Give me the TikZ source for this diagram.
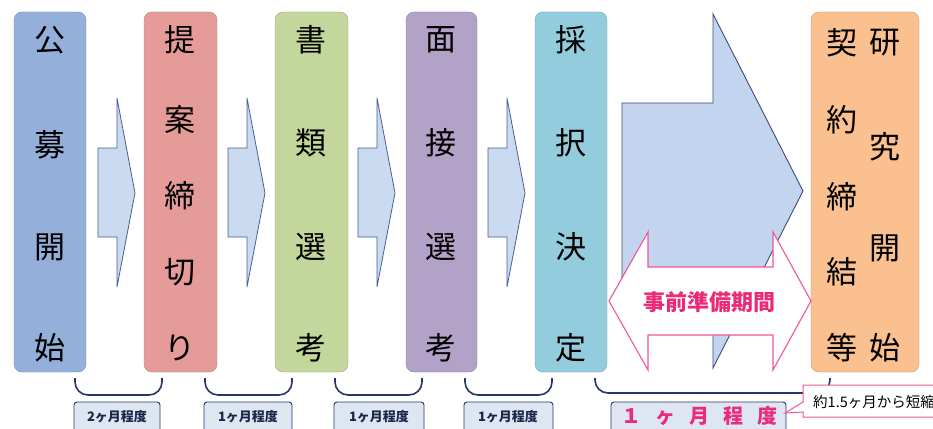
\documentclass[tikz,border=0pt]{standalone}
\usepackage{fontspec}
\newfontfamily\jp{Noto Sans CJK JP}
\definecolor{cA}{HTML}{94B0DA}
\definecolor{cB}{HTML}{E59C99}
\definecolor{cC}{HTML}{C3D69B}
\definecolor{cD}{HTML}{B3A2C7}
\definecolor{cE}{HTML}{93CDDD}
\definecolor{cF}{HTML}{FAC090}
\definecolor{arrfill}{HTML}{C9DAF1}
\definecolor{bigfill}{HTML}{C3D4EE}
\definecolor{navy}{HTML}{27376A}
\definecolor{arrline}{HTML}{4A5F92}
\definecolor{lblfill}{HTML}{DEE6F2}
\definecolor{pinkc}{HTML}{EB2A78}
\definecolor{pinkline}{HTML}{F0569A}
\tikzset{
  stagebox/.style={rounded corners=8pt, draw=#1!80!black, line width=0.4pt, fill=#1},
  ch/.style={font=\jp\fontsize{31}{31}\selectfont, inner sep=0pt, anchor=center},
  smallarr/.style={draw=arrline, line width=0.8pt, fill=arrfill, line join=miter},
  bracepath/.style={draw=navy, line width=1.6pt, rounded corners=13pt},
  lblbox/.style={draw=navy, line width=0.9pt, fill=lblfill, rounded corners=3pt},
  lbltext/.style={font=\jp\bfseries\fontsize{13}{13}\selectfont, text=navy!70!black, inner sep=0pt},
}
\begin{document}
\begin{tikzpicture}[x=1pt,y=-1pt]
\useasboundingbox (0,0) rectangle (933,428);
\clip (0,0) rectangle (933,428);
\fill[white] (0,0) rectangle (933,428);
% stage boxes
\path[stagebox=cA] (14,12) rectangle (86,372);
\path[stagebox=cB] (144,12) rectangle (217,372);
\path[stagebox=cC] (275,12) rectangle (348,372);
\path[stagebox=cD] (406,12) rectangle (477,372);
\path[stagebox=cE] (535,12) rectangle (607,372);
\path[stagebox=cF] (811,12) rectangle (919,372);
% box texts
\foreach \c/\y [count=\i] in {公/40,募/145,開/247,始/348}{\node[ch] (a\i) at (50,\y) {\c};}
\foreach \c/\y [count=\i] in {提/40,案/120,締/196,切/272,り/348}{\node[ch] (b\i) at (180,\y) {\c};}
\foreach \c/\y [count=\i] in {書/40,類/143,選/247,考/348}{\node[ch] (c\i) at (311,\y) {\c};}
\foreach \c/\y [count=\i] in {面/40,接/143,選/247,考/348}{\node[ch] (d\i) at (441,\y) {\c};}
\foreach \c/\y [count=\i] in {採/40,択/143,決/247,定/348}{\node[ch] (e\i) at (571,\y) {\c};}
\foreach \c/\y [count=\i] in {契/43,約/120,締/197,結/272,等/348}{\node[ch] (f\i) at (842,\y) {\c};}
\foreach \c/\y [count=\i] in {研/43,究/147,開/248,始/348}{\node[ch] (g\i) at (885,\y) {\c};}
% small arrows
\foreach \s in {98,228,358,488}{
  \path[smallarr] (\s,148) -- (\s+19,148) -- (\s+19,98) -- (\s+37,193) -- (\s+19,287) -- (\s+19,237) -- (\s,237) -- cycle;
}
% big arrow
\path[draw=navy!90, line width=0.9pt, fill=bigfill, line join=miter]
  (622,103) -- (713,103) -- (713,14) -- (803,191) -- (713,368) -- (713,279) -- (622,279) -- cycle;
% pink double arrow
\path[draw=pinkline, line width=1.1pt, fill=white, line join=miter]
  (609,301) -- (648,232) -- (648,267) -- (773,267) -- (773,232) -- (811,301)
  -- (773,370) -- (773,335) -- (648,335) -- (648,370) -- cycle;
\node[font=\jp\bfseries\fontsize{22}{22}\selectfont, text=pinkc, inner sep=0pt] (prep) at (709,302) {事前準備期間};
% braces
\path[bracepath] (75,378) -- (75,395) -- (162,395) -- (162,378);
\path[bracepath] (205,378) -- (205,395) -- (292,395) -- (292,378);
\path[bracepath] (335,378) -- (335,395) -- (422,395) -- (422,378);
\path[bracepath] (465,378) -- (465,395) -- (552,395) -- (552,378);
\path[bracepath] (595,378) -- (595,393) -- (830,393) -- (830,378);
% labels
\path[lblbox] (74,402) rectangle (160,440);
\node[lbltext] (l1) at (117,417) {2ヶ月程度};
\path[lblbox] (204,402) rectangle (292,440);
\node[lbltext] (l2) at (248,417) {1ヶ月程度};
\path[lblbox] (334,402) rectangle (424,440);
\node[lbltext] (l3) at (379,417) {1ヶ月程度};
\path[lblbox] (464,402) rectangle (553,440);
\node[lbltext] (l4) at (508,417) {1ヶ月程度};
\path[lblbox] (611,402) rectangle (786,440);
\node[font=\jp\bfseries\fontsize{20}{20}\selectfont, text=pinkc, inner sep=0pt] (l5) at (699,416)
  {１\hspace{14pt}ヶ\hspace{14pt}月\hspace{14pt}程\hspace{14pt}度};
% callout
\path[draw=pinkline, line width=1pt, fill=white, line join=miter]
  (803,385) -- (960,385) -- (960,417) -- (803,417) -- (803,412) -- (785,413) -- (803,402) -- cycle;
\node[font=\jp\fontsize{14.5}{14.5}\selectfont, anchor=west, inner sep=0pt] (co) at (813,402) {約1.5ヶ月から短縮};
\end{tikzpicture}
\end{document}
